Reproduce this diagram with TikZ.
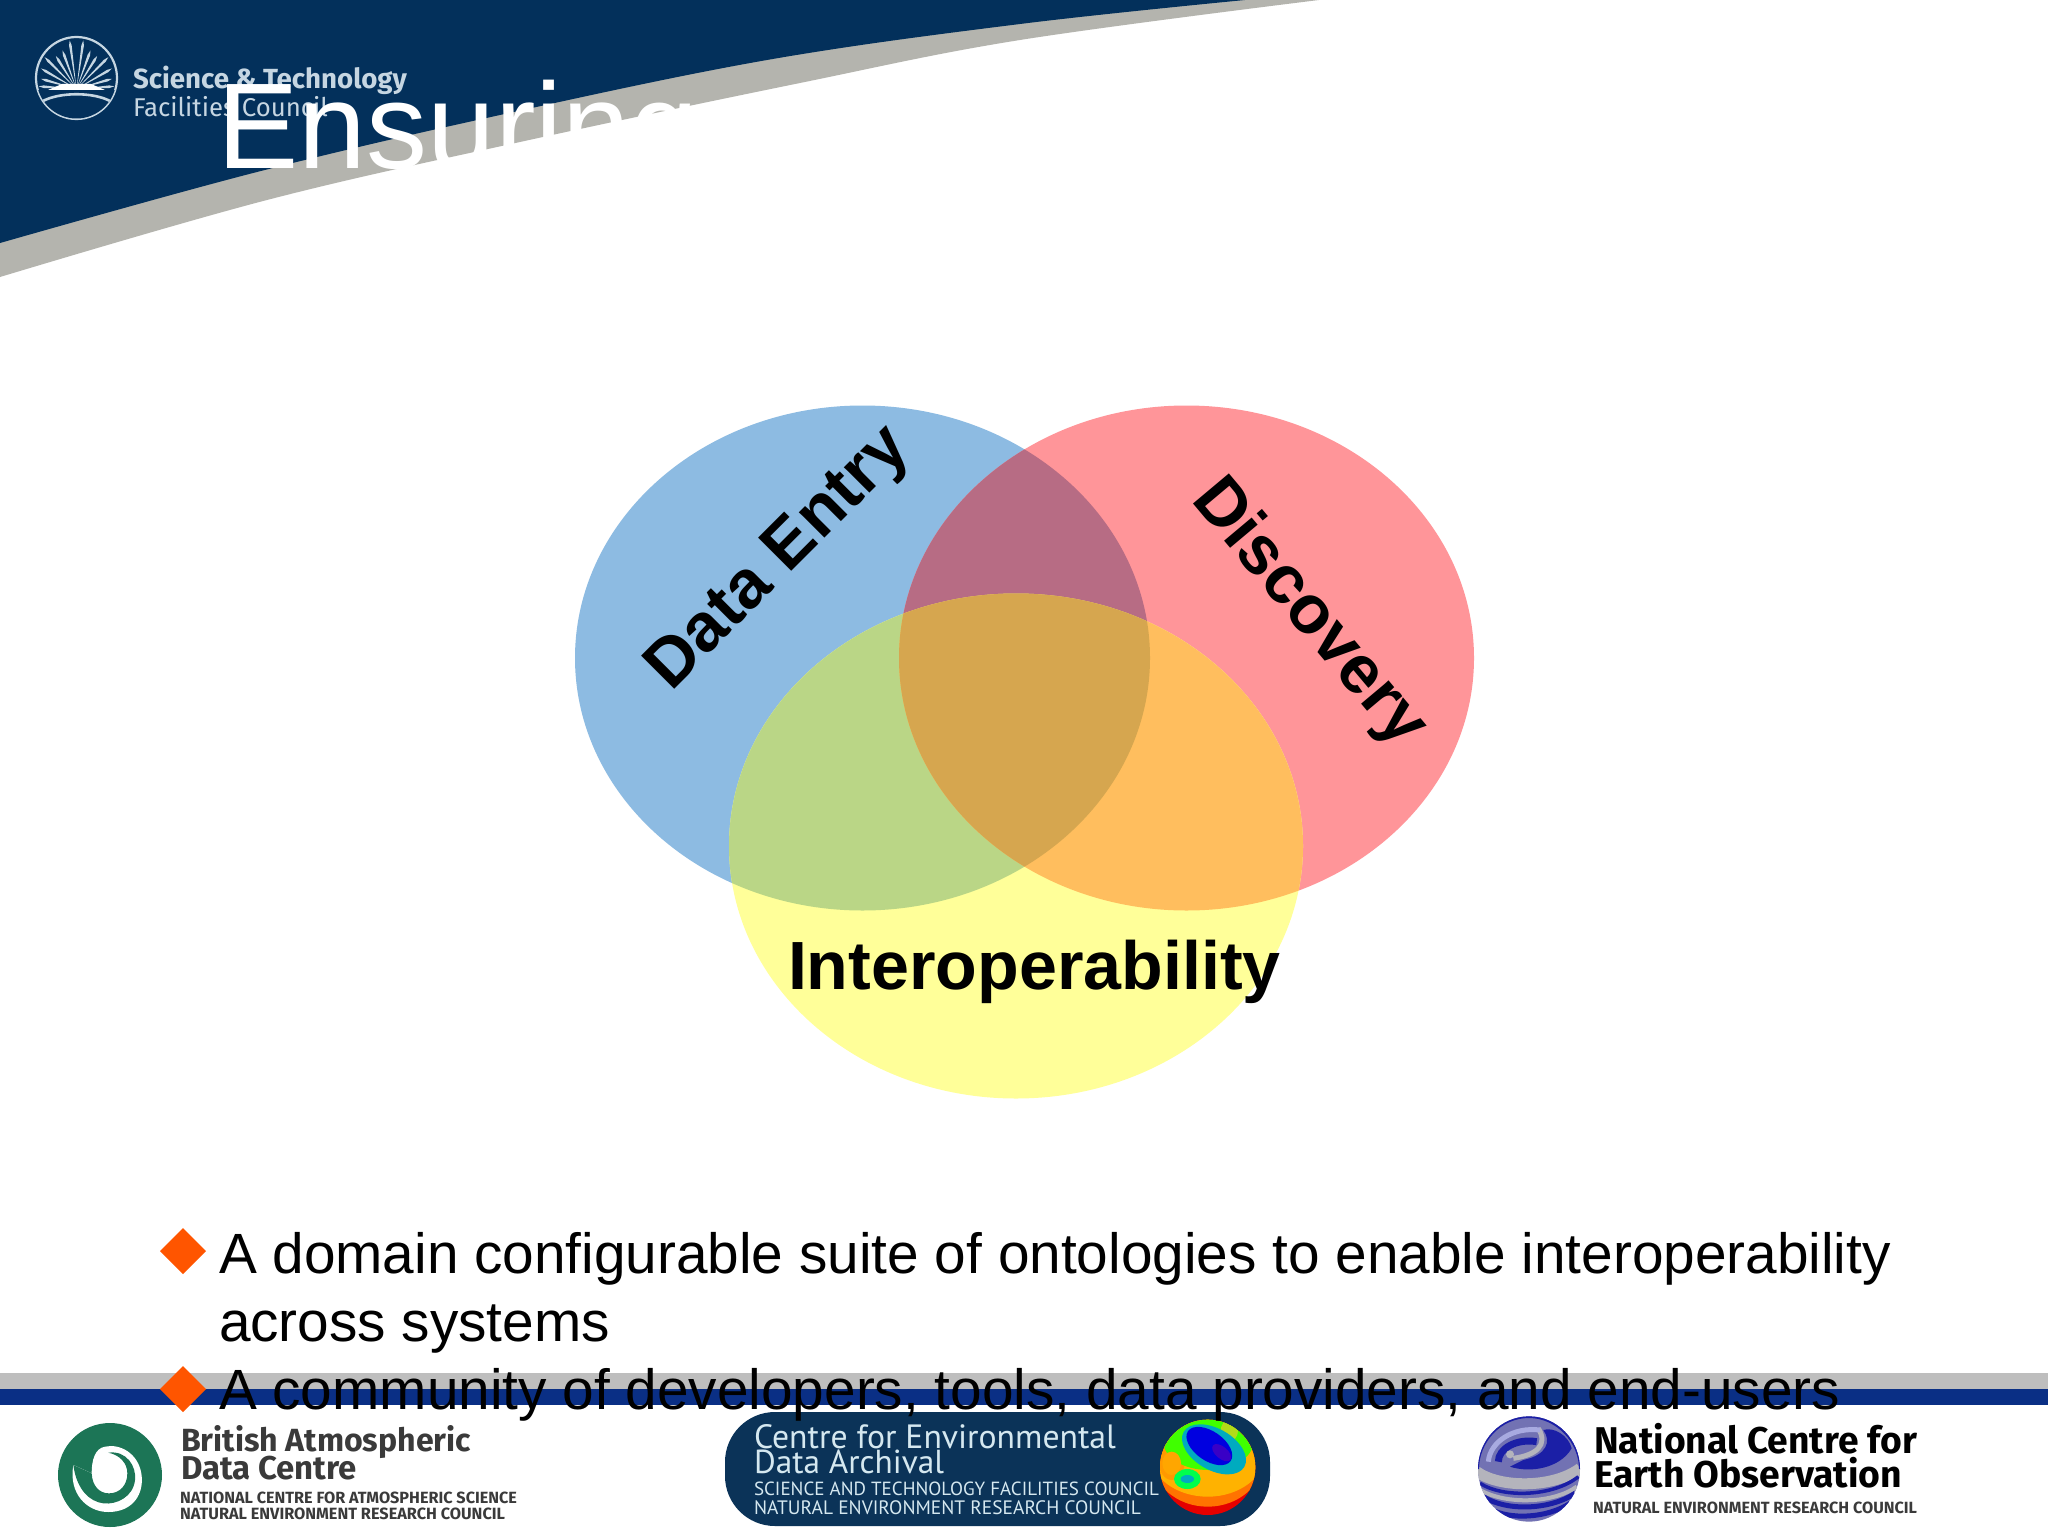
\documentclass[tikz,border=0pt]{standalone}
\usepackage{fontspec}
\usepackage{graphicx}
\setmainfont{Liberation Sans}
\newfontfamily\logofont{Fira Sans}
\newfontfamily\cedafont{PT Sans}
\definecolor{navy}{HTML}{03305B}
\definecolor{swoosh}{HTML}{B4B4AE}
\definecolor{barblue}{HTML}{0A2F85}
\definecolor{bargray}{HTML}{BEBEBE}
\definecolor{bulletor}{HTML}{FF5500}
\definecolor{vblue}{HTML}{8DBBE2}
\definecolor{vred}{HTML}{FF9599}
\definecolor{vyellow}{HTML}{FFFF99}
\definecolor{vbr}{HTML}{B76C84}
\definecolor{vby}{HTML}{BAD686}
\definecolor{vry}{HTML}{FFBE5E}
\definecolor{vall}{HTML}{D6A64F}
\definecolor{stfc}{HTML}{C6D6E2}
\definecolor{badc}{HTML}{1C7556}
\definecolor{cedabg}{HTML}{0B3358}
\definecolor{cedatx}{HTML}{D5E8F0}
\definecolor{logotx}{HTML}{3A3A3A}
\definecolor{gdark}{HTML}{1B1FA6}
\definecolor{ggray}{HTML}{B4B4BC}
\definecolor{glav}{HTML}{A8AAE0}
\newcommand{\fitw}[2]{\resizebox{#1pt}{!}{#2}}
\newcommand{\pxfont}[1]{\fontsize{#1}{#1}\selectfont}
\tikzset{
  txt/.style={inner sep=0pt,outer sep=0pt,anchor=base west},
  bullettext/.style={txt,text=black,font=\pxfont{56.75}},
  venntext/.style={txt,text=black,font=\pxfont{68.2}\bfseries},
  bulletmark/.style={fill=bulletor},
  stfctext/.style={txt,text=stfc,font=\logofont\pxfont{20}},
  logotext/.style={txt,text=logotx,font=\logofont\pxfont{20}\bfseries},
  cedatext/.style={txt,text=cedatx,font=\cedafont\pxfont{20}},
}
\begin{document}
\begin{tikzpicture}[x=1pt,y=-1pt]
\useasboundingbox (0,0) rectangle (2048,1536);
\fill[white] (0,0) rectangle (2048,1536);
% swoosh
\fill[swoosh] plot[smooth,tension=.6] coordinates {(1319,0)(1020,40)(800,83)(520,142)(267,200)(0,277)} -- (0,0) -- cycle;
\fill[navy] plot[smooth,tension=.6] coordinates {(1245,0)(1020,24)(767,60)(500,115)(257,172)(0,243)} -- (0,0) -- cycle;
% STFC logo
\draw[stfc,line width=2.2pt] (76.5,78) ellipse [x radius=40.5,y radius=41];
\begin{scope}
\clip (76.5,78) ellipse [x radius=40,y radius=40.5];
\foreach \a/\l in {4/33,16/32,30/36,45/40,58/34,70/36,82/44,98/44,110/36,122/34,135/40,150/36,164/32,176/33}{
  \fill[stfc] (76.5,89) -- ({76.5+\l*cos(\a)+1.3*sin(\a)},{89-\l*sin(\a)+1.3*cos(\a)}) -- ({76.5+(\l+5)*cos(\a)},{89-(\l+5)*sin(\a)}) -- ({76.5+\l*cos(\a)-1.3*sin(\a)},{89-\l*sin(\a)-1.3*cos(\a)}) -- cycle;
}
\fill[white] (57,89) arc[start angle=180,end angle=0,radius=19.5] -- cycle;
\fill[white] (48,90) -- (62,84) -- (91,84) -- (105,90) -- cycle;
\fill[navy] (30,90) rectangle (124,125);
\draw[stfc,line width=2.6pt] (43,101) .. controls (60,92) and (93,92) .. (110,101);
\end{scope}
\node[stfctext,font=\logofont\pxfont{20}\bfseries] (stfc1) at (133,89) {\fitw{274}{Science \& Technology}};
\node[stfctext] (stfc2) at (133,117) {\fitw{195}{Facilities Council}};
% title
\node[txt,text=white,font=\pxfont{122}] (title) at (217,168) {Ensuring};
% venn
\def\cblue{(862.5,658) ellipse [x radius=287.5,y radius=252.5]}
\def\cred{(1186.5,658) ellipse [x radius=287.5,y radius=252.5]}
\def\cyel{(1016,846) ellipse [x radius=287,y radius=252.5]}
\fill[vblue] \cblue;
\fill[vred] \cred;
\fill[vyellow] \cyel;
\begin{scope}\clip \cblue; \fill[vbr] \cred; \end{scope}
\begin{scope}\clip \cblue; \fill[vby] \cyel; \end{scope}
\begin{scope}\clip \cred; \fill[vry] \cyel; \end{scope}
\begin{scope}\clip \cblue; \clip \cred; \fill[vall] \cyel; \end{scope}
\node[venntext,rotate=45] (dataentry) at (671,692) {Data Entry};
\node[venntext,rotate=-50] (discovery) at (1190,500) {Discovery};
\node[venntext] (interop) at (788,989) {Interoperability};
% footer bars
\fill[bargray] (0,1373) rectangle (2048,1389);
\fill[barblue] (0,1389) rectangle (2048,1405);
% BADC logo
\fill[badc] (110,1475) ellipse [x radius=52,y radius=52];
\begin{scope}[shift={(40,1410)},scale=1/3]
\fill[white] (100,165) .. controls (85,250) and (140,306) .. (205,306) .. controls (280,306) and (314,250) .. (304,190) .. controls (294,130) and (240,100) .. (195,110) .. controls (165,115) and (155,150) .. (155,190) -- cycle;
\fill[badc] (205,128) .. controls (260,120) and (290,170) .. (285,210) .. controls (280,260) and (230,285) .. (190,280) .. controls (150,275) and (110,240) .. (100,165) -- (155,190) .. controls (157,228) and (178,250) .. (207,250) .. controls (240,250) and (262,225) .. (262,190) .. controls (262,160) and (240,135) .. (205,128) -- cycle;
\end{scope}
\node[logotext] (badc1) at (181,1451) {\fitw{290}{British Atmospheric}};
\node[logotext] (badc2) at (181,1479) {\fitw{176}{Data Centre}};
\node[logotext] (badc3) at (180,1503) {\fitw{337}{NATIONAL CENTRE FOR ATMOSPHERIC SCIENCE}};
\node[logotext] (badc4) at (180,1519) {\fitw{325}{NATURAL ENVIRONMENT RESEARCH COUNCIL}};
% CEDA logo
\fill[cedabg,rounded corners=50pt] (725,1412) rectangle (1270,1526);
\node[cedatext] (ceda1) at (754,1448) {\fitw{362}{Centre for Environmental}};
\node[cedatext] (ceda2) at (754,1473) {\fitw{190}{Data Archival}};
\node[cedatext] (ceda3) at (754,1495) {\fitw{405}{SCIENCE AND TECHNOLOGY FACILITIES COUNCIL}};
\node[cedatext] (ceda4) at (754,1514) {\fitw{387}{NATURAL ENVIRONMENT RESEARCH COUNCIL}};
\begin{scope}[shift={(1140,1410)},scale=1/3]
\clip (203,172) ellipse [x radius=143,y radius=143];
\fill[red!90!black] (50,20) rectangle (360,330);
\fill[orange!90!red] (203,140) ellipse [x radius=170,y radius=150];
\fill[orange!60!yellow] (203,125) ellipse [x radius=175,y radius=135];
\fill[orange!80!yellow] (95,150) ellipse [x radius=40,y radius=60];
\fill[green!75!yellow] (205,95) ellipse [x radius=135,y radius=85];
\fill[yellow!70!green] (268,62) ellipse [x radius=26,y radius=32];
\fill[green!70!cyan] (142,207) ellipse [x radius=40,y radius=30];
\fill[cyan!70!green] (142,207) ellipse [x radius=20,y radius=12];
\fill[orange!70!yellow] (95,160) ellipse [x radius=28,y radius=35];
\fill[cyan!70!green,rotate around={-30:(222,118)}] (222,118) ellipse [x radius=105,y radius=62];
\fill[blue!88!black,rotate around={-35:(208,108)}] (208,108) ellipse [x radius=78,y radius=44];
\fill[blue!55!violet,rotate around={-40:(245,128)}] (245,128) ellipse [x radius=34,y radius=18];
\end{scope}
% NCEO logo
\begin{scope}[shift={(1460,1405)},scale=1/3]
\clip (207,192) ellipse [x radius=153,y radius=158];
\fill[blue!30!gray!85!white] (40,20) rectangle (370,360);
\draw[ggray,line width=11pt] (50,200) .. controls (120,250) and (280,250) .. (360,190);
\draw[gdark,line width=3.5pt] (60,235) .. controls (130,280) and (280,275) .. (355,215);
\draw[ggray,line width=4pt] (60,255) .. controls (140,300) and (280,295) .. (350,245);
\draw[gdark,line width=5pt] (70,275) .. controls (140,320) and (270,315) .. (345,265);
\draw[gdark,line width=5pt] (90,312) .. controls (150,345) and (260,340) .. (330,295);
\draw[gdark,line width=2pt] (54,192) .. controls (54,110) and (120,36) .. (207,36) .. controls (290,36) and (360,110) .. (360,192);
\fill[gdark] (150,185) .. controls (210,205) and (300,190) .. (335,130) .. controls (325,90) and (280,65) .. (250,75) .. controls (275,110) and (260,150) .. (190,165) -- cycle;
\draw[ggray,line width=5pt] (160,160) .. controls (230,150) and (265,120) .. (235,70);
\draw[gdark,line width=7pt] (115,170) .. controls (115,130) and (170,100) .. (230,110);
\draw[glav,line width=5pt] (85,170) .. controls (90,110) and (160,65) .. (240,75);
\fill[ggray] (150,148) circle [radius=12];
\end{scope}
\node[logotext,text=black] (nceo1) at (1594,1453) {\fitw{323}{National Centre for}};
\node[logotext,text=black] (nceo2) at (1594,1487) {\fitw{308}{Earth Observation}};
\node[logotext] (nceo3) at (1593,1513) {\fitw{324}{NATURAL ENVIRONMENT RESEARCH COUNCIL}};
% bullets
\node[bullettext] (b1a) at (219,1273) {A domain configurable suite of ontologies to enable interoperability};
\node[bullettext] (b1b) at (219,1341) {across systems};
\node[bullettext] (b2) at (219,1409) {A community of developers, tools, data providers, and end-users};
\fill[bulletmark] (160,1251) -- (183,1228) -- (206,1251) -- (183,1274) -- cycle;
\fill[bulletmark] (160,1389) -- (183,1366) -- (206,1389) -- (183,1412) -- cycle;
\end{tikzpicture}
\end{document}
